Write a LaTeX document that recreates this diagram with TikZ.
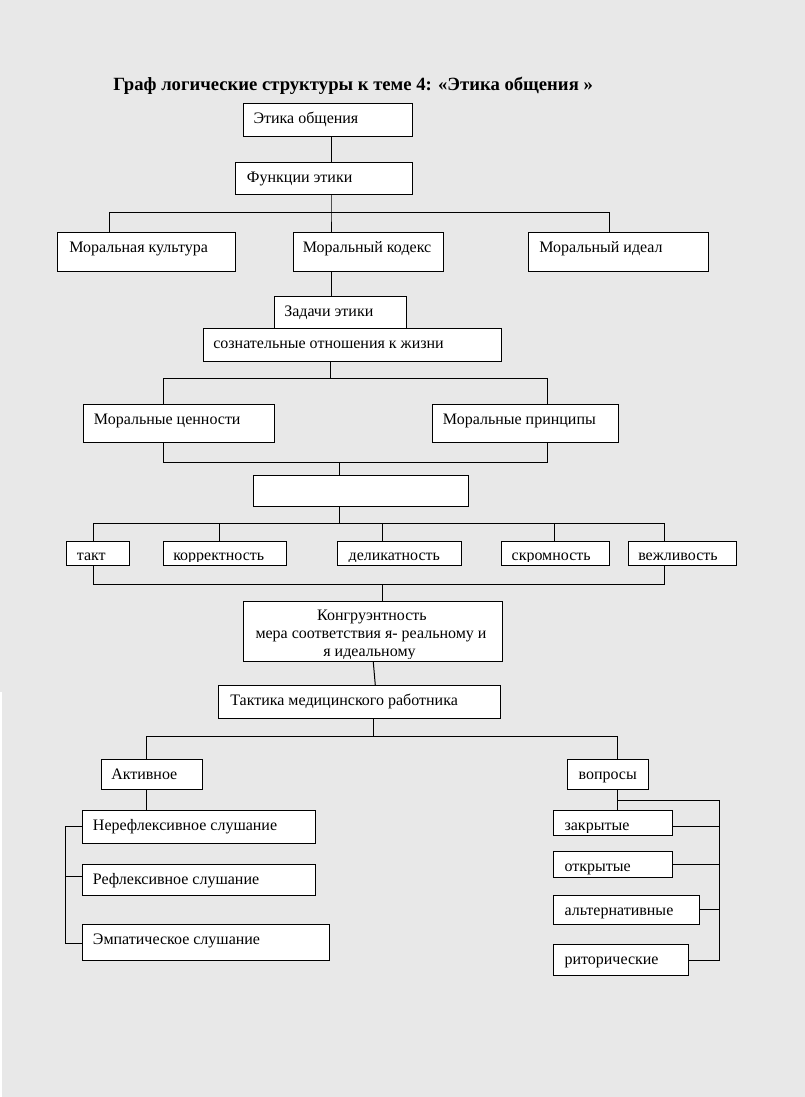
\documentclass[tikz,border=0pt]{standalone}
\usepackage{fontspec}
\setmainfont{Liberation Serif}
\usetikzlibrary{fit}
\definecolor{bg}{RGB}{232,232,232}
\tikzset{
  box/.style={draw, fill=white, inner sep=0pt, line width=0.75pt},
  lbl/.style={anchor=base west, inner sep=0pt, font=\fontsize{12}{14}\selectfont},
  clbl/.style={anchor=base, inner sep=0pt, font=\fontsize{12}{14}\selectfont},
  wire/.style={line width=0.75pt},
  ttl/.style={anchor=base west, inner sep=0pt, font=\bfseries\fontsize{14}{16}\selectfont},
}
% name, x1, y1, x2, y2, text x, text
\newcommand\mybox[7]{%
  \node[box, fit={(#2,#3) (#4,#5)}] (#1) {};
  \begin{scope}
    \clip (#2,#3) rectangle (#4,#5-3);
    \node[lbl] (#1t) at (#6,#3+20) {#7};
  \end{scope}}
% small boxes whose text is cut at the baseline
\newcommand\cutbox[7]{%
  \node[box, fit={(#2,#3) (#4,#5)}] (#1) {};
  \begin{scope}
    \clip (#2,#3) rectangle (#4,#5-4);
    \node[lbl] (#1t) at (#6,#3+19.3) {#7};
  \end{scope}}
\begin{document}
\begin{tikzpicture}[x=0.75pt,y=-0.75pt]
\fill[bg] (0,0) rectangle (805,1097);
\fill[white] (0,691.7) rectangle (2,1097);
\useasboundingbox (0,0) rectangle (805,1097);

\node[ttl] (title) at (113,90) {Граф логические структуры к теме 4: «Этика общения »};

\mybox{E1}{243.3}{103.3}{412.3}{136}{253.3}{Этика общения}
\mybox{E2}{235}{162}{412.3}{194}{246.7}{Функции этики}
\mybox{MC}{57.9}{232.3}{235.5}{271}{69}{Моральная культура}
\mybox{MK}{293}{232.3}{443}{271}{302.5}{Моральный кодекс}
\mybox{MI}{528}{232.3}{708}{271}{539}{Моральный идеал}
\mybox{ZE}{274.4}{296.7}{406.5}{328.3}{284}{Задачи этики}
\mybox{SO}{203.5}{328.3}{501.3}{361.3}{213}{сознательные отношения к жизни}
\mybox{MV}{83.3}{404.3}{274.3}{442.3}{93.7}{Моральные ценности}
\mybox{MP}{432.4}{404.3}{618.4}{442.3}{442.7}{Моральные принципы}
\node[box, fit={(253.4,475.3) (468.3,506)}] (EM) {};
\cutbox{T1}{66.5}{541.3}{129}{565.3}{76.6}{такт}
\cutbox{T2}{163.4}{541.3}{286.5}{565.3}{173}{корректность}
\cutbox{T3}{337.4}{541.3}{461.8}{565.3}{348.4}{деликатность}
\cutbox{T4}{501.3}{541.3}{609.2}{565.3}{511.4}{скромность}
\cutbox{T5}{628.5}{541.3}{736.4}{565.3}{638}{вежливость}

\node[box, fit={(243.3,601) (502.7,661.7)}] (KG) {};
\begin{scope}
  \clip (243.3,601) rectangle (502.7,658.7);
  \node[clbl] (KG1) at (372,620.5) {Конгруэнтность};
  \node[clbl] (KG2) at (371,638.5) {мера соответствия я- реальному и};
  \node[clbl] (KG3) at (369.5,656.5) {я идеальному};
\end{scope}

\mybox{TK}{218.3}{685.7}{500}{718.3}{230}{Тактика медицинского работника}
\mybox{AK}{101}{759.3}{202.7}{789.3}{111}{Активное}
\mybox{L1}{82.3}{810.3}{315.7}{843.3}{92.7}{Нерефлексивное слушание}
\mybox{L2}{82.3}{864.3}{315.7}{895.3}{92.7}{Рефлексивное слушание}
\mybox{L3}{82.3}{924.3}{329.3}{960}{92.7}{Эмпатическое слушание}
\mybox{VQ}{567.3}{759.3}{648.3}{789.3}{578.3}{вопросы}
\mybox{Q1}{553.3}{810.3}{672.3}{835.3}{564.3}{закрытые}
\mybox{Q2}{553.3}{851.3}{672.3}{877.3}{564.3}{открытые}
\mybox{Q3}{553.3}{895.7}{699.3}{924.3}{564.3}{альтернативные}
\mybox{Q4}{553.3}{944.3}{688.3}{975.3}{564.3}{риторические}

% junctions
\coordinate (j1) at (331,212);
\coordinate (j2) at (330.6,378.3);
\coordinate (j3) at (339.4,462.3);
\coordinate (j4) at (339.4,523);
\coordinate (j5) at (382.4,584);
\coordinate (j6) at (373.3,736.7);
\coordinate (j7) at (617.3,800);
\coordinate (j8) at (719.3,800);

\draw[wire] (331,0 |- E1.south) -- (331,0 |- E2.north);
\draw[wire] (331,0 |- E2.south) -- (j1) -- (331,0 |- MK.north);
\draw[wire] (109.2,0 |- MC.north) |- (j1);
\draw[wire] (609,0 |- MI.north) |- (j1);
\draw[wire] (331,0 |- MK.south) -- (331,0 |- ZE.north);

\draw[wire] (330.6,0 |- SO.south) -- (j2);
\draw[wire] (163.3,0 |- MV.north) |- (j2);
\draw[wire] (547.2,0 |- MP.north) |- (j2);
\draw[wire] (163.3,0 |- MV.south) |- (j3);
\draw[wire] (547.2,0 |- MP.south) |- (j3);
\draw[wire] (j3) -- (339.4,0 |- EM.north);

\draw[wire] (339.4,0 |- EM.south) -- (j4);
\draw[wire] (93.6,0 |- T1.north) |- (j4);
\draw[wire] (664.3,0 |- T5.north) |- (j4);
\draw[wire] (219.4,0 |- T2.north) -- (219.4,523);
\draw[wire] (382.4,0 |- T3.north) -- (382.4,523);
\draw[wire] (554.6,0 |- T4.north) -- (554.6,523);
\draw[wire] (93.6,0 |- T1.south) |- (j5);
\draw[wire] (664.3,0 |- T5.south) |- (j5);
\draw[wire] (j5) -- (382.4,0 |- KG.north);

\draw[wire] (373.3,0 |- KG.south) -- (375.3,0 |- TK.north);
\draw[wire] (373.3,0 |- TK.south) -- (j6);
\draw[wire] (146,0 |- AK.north) |- (j6);
\draw[wire] (617.3,0 |- VQ.north) |- (j6);

\draw[wire] (146,0 |- AK.south) -- (146,0 |- L1.north);
\draw[wire] (L1.west |- 0,826.3) -- (65.3,826.3) -- (65.3,943.7) -- (L3.west |- 0,943.7);
\draw[wire] (65.3,876.7) -- (L2.west |- 0,876.7);

\draw[wire] (617.3,0 |- VQ.south) -- (617.3,0 |- Q1.north);
\draw[wire] (j7) -- (j8) -- (719.3,960.3) -- (Q4.east |- 0,960.3);
\draw[wire] (Q1.east |- 0,826.3) -- (719.3,826.3);
\draw[wire] (Q2.east |- 0,864.3) -- (719.3,864.3);
\draw[wire] (Q3.east |- 0,909.3) -- (719.3,909.3);
\end{tikzpicture}
\end{document}
